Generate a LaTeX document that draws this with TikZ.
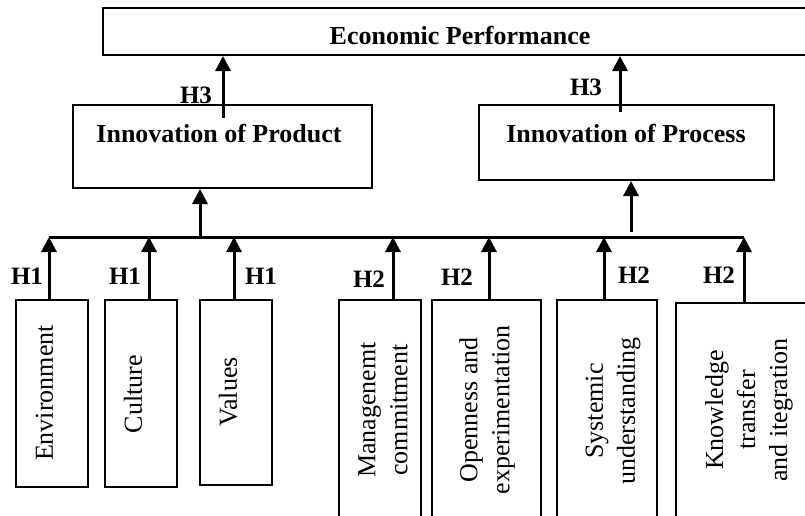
\documentclass[tikz,border=0pt]{standalone}
\usepackage{fontspec}
\setmainfont{Liberation Serif}
\usetikzlibrary{arrows.meta}

\begin{document}
\begin{tikzpicture}[x=1pt,y=-1pt,
    box/.style={draw,line width=2pt,inner sep=0pt},
    hyp/.style={draw,line width=3pt,-{Triangle[length=15pt,width=15pt]}},
    vtext/.style={rotate=90,align=center,inner sep=0pt,font=\fontsize{26}{32}\selectfont},
    head/.style={inner sep=0pt,font=\fontsize{26}{30}\selectfont\bfseries},
    hlab/.style={inner sep=0pt,font=\fontsize{25}{30}\selectfont\bfseries}]
  \useasboundingbox (0,0) rectangle (805,515);
  \clip (0,0) rectangle (805,515);

  % outcome and the two kinds of innovation
  \node[box,minimum width=714,minimum height=47] (perf) at (460,31.5) {};
  \node[head] (perftxt) at (460,35) {Economic Performance};
  \node[box,minimum width=299,minimum height=83] (prod) at (222.5,146.5) {};
  \node[head] (prodtxt) at (219,133) {Innovation of Product};
  \node[box,minimum width=295,minimum height=75] (proc) at (626.5,142.5) {};
  \node[head] (proctxt) at (626,133) {Innovation of Process};

  % factors
  \node[box,minimum width=72,minimum height=187] (env) at (52,393.5) {};
  \node[box,minimum width=72,minimum height=187] (cult) at (141,393.5) {};
  \node[box,minimum width=72,minimum height=185] (val) at (236,392.5) {};
  \node[box,minimum width=82,minimum height=220] (mgmt) at (380,410) {};
  \node[box,minimum width=109,minimum height=220] (open) at (486.5,410) {};
  \node[box,minimum width=100,minimum height=220] (sys) at (607,410) {};
  \node[box,minimum width=136,minimum height=217] (know) at (744,411.5) {};

  \node[vtext] (envtxt) at (44.5,393) {Environment};
  \node[vtext] (culttxt) at (133,394) {Culture};
  \node[vtext] (valtxt) at (228,392) {Values};
  \node[vtext] (mgmttxt) at (383,410) {Managenemt\\commitment};
  \node[vtext] (opentxt) at (487,410) {Openness and\\experimentation};
  \node[vtext] (systxt) at (613,411) {Systemic\\understanding};
  \node[vtext] (knowtxt) at (749,410) {Knowledge\\transfer\\and itegration};

  % common line and the taps on it
  \coordinate (b1) at (49,237);
  \coordinate (b2) at (149,237);
  \coordinate (b3) at (234,237);
  \coordinate (b4) at (393,237);
  \coordinate (b5) at (489,237);
  \coordinate (b6) at (604,237);
  \coordinate (b7) at (744,237);
  \coordinate (p1) at (200,237);
  \coordinate (p2) at (631,232);
  \coordinate (t1) at (223,118);
  \coordinate (t2) at (620,112);
  \draw[line width=3pt] (b1) -- (b7);

  \draw[hyp] (env.north -| b1) -- (b1);
  \draw[hyp] (cult.north -| b2) -- (b2);
  \draw[hyp] (val.north -| b3) -- (b3);
  \draw[hyp] (mgmt.north -| b4) -- (b4);
  \draw[hyp] (open.north -| b5) -- (b5);
  \draw[hyp] (sys.north -| b6) -- (b6);
  \draw[hyp] (know.north -| b7) -- (b7);
  \draw[hyp] (p1) -- (p1 |- prod.south);
  \draw[hyp] (p2) -- (p2 |- proc.south);
  \draw[hyp] (t1) -- (t1 |- perf.south);
  \draw[hyp] (t2) -- (t2 |- perf.south);

  % hypothesis labels
  \node[hlab] (h3a) at (196,95) {H3};
  \node[hlab] (h3b) at (586,87) {H3};
  \node[hlab] (h1a) at (27,276) {H1};
  \node[hlab] (h1b) at (125,276) {H1};
  \node[hlab] (h1c) at (261,276) {H1};
  \node[hlab] (h2a) at (369,279) {H2};
  \node[hlab] (h2b) at (457,277) {H2};
  \node[hlab] (h2c) at (634,275) {H2};
  \node[hlab] (h2d) at (719,275) {H2};
\end{tikzpicture}
\end{document}
